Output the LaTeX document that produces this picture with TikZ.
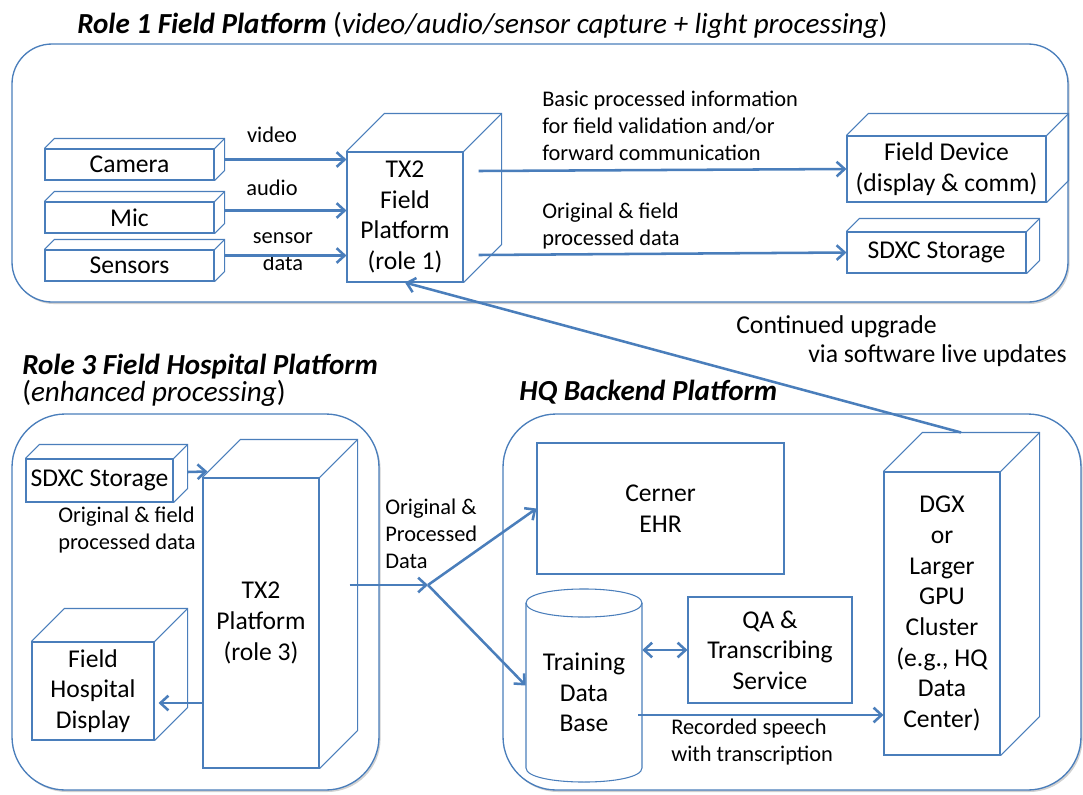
\documentclass[tikz,border=0pt]{standalone}
\usepackage{fontspec}
\setmainfont{Carlito}
\usetikzlibrary{arrows.meta,calc,fit,shadows}
\definecolor{ac}{HTML}{4A7EBB}
\newcommand\fbig{\fontsize{19.2}{23}\selectfont}
\newcommand\fsmall{\fontsize{16.8}{20.25}\selectfont}
\newcommand\fmid{\fontsize{19.3}{21.75}\selectfont}
\newcommand\ftitle{\fontsize{21.8}{20.25}\selectfont}
\newcommand\mkcube[2]{%
  \draw[boxline] (#1.north west) -- ++(#2,-#2) -- ($(#1.north east)+(#2,-#2)$) -- ($(#1.south east)+(#2,-#2)$) -- (#1.south east);
  \draw[boxline] (#1.north east) -- ++(#2,-#2);}
\newcommand\facenode[6]{%
  \node[face, minimum width={(#4-#2)*0.75pt}, minimum height={(#5-#3)*0.75pt}] (#1) at ({(#2+#4)/2},{(#3+#5)/2}) {#6};}
\begin{document}
\begin{tikzpicture}[x=0.75pt,y=-0.75pt,
  boxline/.style={draw=ac,line width=0.8pt},
  face/.style={draw=ac,line width=0.8pt,fill=white,inner sep=0pt,align=center,font=\fbig},
  cont/.style={draw=ac,line width=1pt,fill=white,inner sep=0pt,rounded corners=#1,
    drop shadow={shadow xshift=1.2pt,shadow yshift=-1.5pt,opacity=0.3,fill=black!60}},
  arr/.style={draw=ac,line width=1.9pt,-{Straight Barb[length=6pt,width=11pt]}},
  arrb/.style={draw=ac,line width=1.9pt,{Straight Barb[length=6pt,width=11pt]}-{Straight Barb[length=6pt,width=11pt]}},
  lbl/.style={font=\fsmall,align=left,inner sep=0pt},
  ttl/.style={font=\ftitle,align=left,inner sep=0pt,anchor=west}]
\useasboundingbox (0,0) rectangle (1083,794);

% containers
\node[cont=30pt, fit={(12,44)(1068,302)}] (c1) {};
\node[cont=40pt, fit={(12,414)(379,790)}] (c3) {};
\node[cont=40pt, fit={(503,414)(1081,790)}] (chq) {};

% titles
\node[ttl] (t1) at (77,25) {\textbf{\textit{Role 1 Field Platform}} (\textit{video/audio/sensor capture + light processing})};
\node[ttl] (t3) at (22,380) {\textbf{\textit{Role 3 Field Hospital Platform}}\\(\textit{enhanced processing})};
\node[ttl] (thq) at (519,392) {\textbf{\textit{HQ Backend Platform}}};

% ---- Role 1 ----
\facenode{cam}{45}{149}{214}{180}{Camera} \mkcube{cam}{10}
\facenode{mic}{45}{202}{214}{233}{Mic} \mkcube{mic}{10}
\facenode{sen}{45}{250}{214}{281}{Sensors} \mkcube{sen}{10}
\facenode{tx1}{347}{152}{463}{282}{TX2\\Field\\Platform\\(role 1)} \mkcube{tx1}{38}
\facenode{fd}{847}{136}{1046}{202}{Field Device\\(display \& comm)} \mkcube{fd}{22}
\facenode{sd1}{847}{232}{1026}{273}{SDXC Storage} \mkcube{sd1}{13}

\node[lbl] (lv) at (272,135) {video};
\node[lbl] (la) at (272,188) {audio};
\node[lbl,align=center] (ls) at (283,252) {sensor\\data};
\node[lbl,anchor=west] (lb) at (542,126) {Basic processed information\\for field validation and/or\\forward communication};
\node[lbl,anchor=west] (lo1) at (542,226.5) {Original \& field\\processed data};
\node[font=\fmid,align=left,inner sep=0pt,anchor=west] (lu) at (736,341.5) {Continued upgrade\\\hspace*{54pt}via software live updates};

% ---- Role 3 ----
\facenode{sd2}{26}{459}{173}{502}{SDXC Storage} \mkcube{sd2}{14}
\node[lbl,anchor=west] (lo3) at (58,530.5) {Original \& field\\processed data};
\facenode{tx3}{203}{478}{319}{768}{TX2\\Platform\\(role 3)} \mkcube{tx3}{38}
\facenode{fhd}{32}{642}{154}{740}{Field\\Hospital\\Display} \mkcube{fhd}{33}
\node[lbl,anchor=west] (lop) at (385,534) {Original \&\\Processed\\Data};

% ---- HQ ----
\facenode{cer}{537}{443}{784}{574}{Cerner\\EHR}
\node[inner sep=0pt, fit={(526,589)(642,782)}] (db) {};
\draw[boxline, fill=white] (526,603) -- (526,768) .. controls (526,786.7) and (642,786.7) .. (642,768) -- (642,603) .. controls (642,584.3) and (526,584.3) .. (526,603) -- cycle;
\draw[boxline] (526,603) .. controls (526,621.7) and (642,621.7) .. (642,603);
\node[font=\fbig,align=center,inner sep=0pt] (dbt) at ($(db.center)+(0,7)$) {Training\\Data\\Base};
\facenode{qa}{688}{597}{852}{703}{QA \&\\Transcribing\\Service}
\facenode{dgx}{884}{472}{1000}{755}{DGX\\or\\Larger\\GPU\\Cluster\\(e.g., HQ\\Data\\Center)} \mkcube{dgx}{39}
\node[lbl,anchor=west] (lr) at (671,742) {Recorded speech\\with transcription};

% ---- connectors ----
\coordinate (camo) at ($(cam.east)+(10,-5)$);
\coordinate (mico) at ($(mic.east)+(10,-7)$);
\coordinate (seno) at ($(sen.east)+(10,-10)$);
\draw[arr] (camo) -- (camo -| tx1.west);
\draw[arr] (mico) -- (mico -| tx1.west);
\draw[arr] (seno) -- (seno -| tx1.west);
\coordinate (o1) at ($(tx1.east)+(15,-46)$);
\coordinate (o2) at ($(tx1.east)+(15,38)$);
\draw[arr] (o1) -- (fd.west);
\draw[arr] (o2) -- (sd1.west);

\coordinate (s2o) at ($(sd2.east)+(14,-8.5)$);
\coordinate (tx3in) at ($(tx3.north west)+(5,-6)$);
\draw[arr] (s2o) -- (tx3in);
\coordinate (t3o) at ($(tx3.west)+(0,80)$);
\coordinate (fhdin) at ($(fhd.east)+(4,12)$);
\draw[arr] (t3o) -- (fhdin);
\coordinate (t3r) at ($(tx3.east)+(30,-38)$);
\coordinate (j) at (428,585);
\draw[arr] (t3r) -- (j);
\draw[arr] (j) -- (cer.west);
\draw[arr] (j) -- (db.west);

\draw[arrb] (qa.west -| db.east) -- (qa.west);
\coordinate (dbr) at ($(db.east)+(-4,29.5)$);
\draw[arr] (dbr) -- (dbr -| dgx.west);

\coordinate (dgxtop) at ($(dgx.north)+(19,-39)$);
\draw[arr] (dgxtop) -- (tx1.south);
\end{tikzpicture}
\end{document}
